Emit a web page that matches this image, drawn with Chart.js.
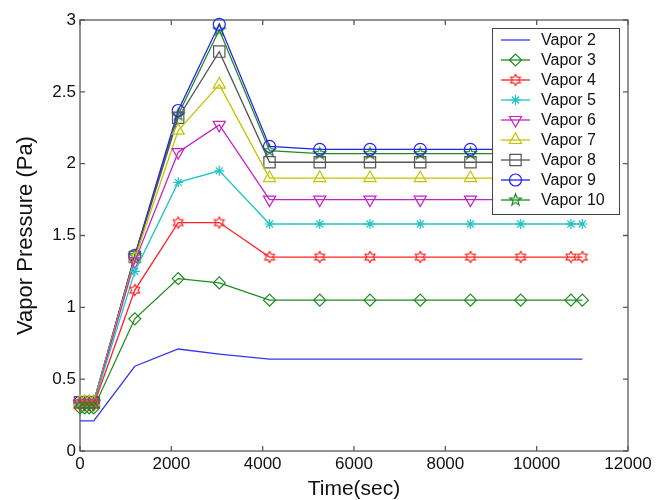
<!DOCTYPE html>
<html><head><meta charset="utf-8">
<script src="https://cdn.jsdelivr.net/npm/chart.js@4/dist/chart.umd.min.js"></script>
<style>html,body{margin:0;padding:0;background:#fff;}canvas{display:block;}</style>
</head><body>
<canvas id="c" width="664" height="500"></canvas>
<script>
// ---- data ----
const times   = [0, 100, 200, 300, 1200, 2150, 3050, 4150, 5250, 6350, 7450, 8550, 9650, 10750, 11000];
const vapor2  = [0.21, 0.21, 0.21, 0.21, 0.59, 0.71, 0.675, 0.64, 0.64, 0.64, 0.64, 0.64, 0.64, 0.64, 0.64];
const vapor3  = [0.30, 0.30, 0.30, 0.30, 0.92, 1.20, 1.17, 1.05, 1.05, 1.05, 1.05, 1.05, 1.05, 1.05, 1.05];
const vapor4  = [0.32, 0.32, 0.32, 0.32, 1.12, 1.59, 1.59, 1.35, 1.35, 1.35, 1.35, 1.35, 1.35, 1.35, 1.35];
const vapor5  = [0.33, 0.33, 0.33, 0.33, 1.25, 1.87, 1.95, 1.58, 1.58, 1.58, 1.58, 1.58, 1.58, 1.58, 1.58];
const vapor6  = [0.33, 0.33, 0.33, 0.33, 1.32, 2.08, 2.27, 1.75, 1.75, 1.75, 1.75, 1.75, 1.75, 1.75, 1.75];
const vapor7  = [0.34, 0.34, 0.34, 0.34, 1.34, 2.23, 2.55, 1.90, 1.90, 1.90, 1.90, 1.90, 1.90, 1.90, 1.90];
const vapor8  = [0.34, 0.34, 0.34, 0.34, 1.35, 2.32, 2.78, 2.01, 2.01, 2.01, 2.01, 2.01, 2.01, 2.01, 2.01];
const vapor9  = [0.34, 0.34, 0.34, 0.34, 1.36, 2.37, 2.97, 2.12, 2.10, 2.10, 2.10, 2.10, 2.10, 2.10, 2.10];
const vapor10 = [0.34, 0.34, 0.34, 0.34, 1.36, 2.34, 2.93, 2.09, 2.07, 2.07, 2.07, 2.07, 2.07, 2.07, 2.07];
const seriesNames = ['Vapor 2','Vapor 3','Vapor 4','Vapor 5','Vapor 6','Vapor 7','Vapor 8','Vapor 9','Vapor 10'];
const seriesValues = [vapor2, vapor3, vapor4, vapor5, vapor6, vapor7, vapor8, vapor9, vapor10];
const xTicks = [0, 2000, 4000, 6000, 8000, 10000, 12000];
const xTickLabels = ['0','2000','4000','6000','8000','10000','12000'];
const yTicks = [0, 0.5, 1, 1.5, 2, 2.5, 3];
const yTickLabels = ['0','0.5','1','1.5','2','2.5','3'];

// ---- styles ----
function starCanvas(color, n, R, r) {
  const size = Math.ceil(2 * R + 4);
  const c = document.createElement('canvas');
  c.width = size; c.height = size;
  const g = c.getContext('2d');
  g.beginPath();
  for (let k = 0; k < 2 * n; k++) {
    const a = -Math.PI / 2 + k * Math.PI / n;
    const rad = (k % 2) ? r : R;
    const px = size / 2 + rad * Math.cos(a), py = size / 2 + rad * Math.sin(a);
    if (k === 0) g.moveTo(px, py); else g.lineTo(px, py);
  }
  g.closePath();
  g.strokeStyle = color; g.lineWidth = 1.2; g.stroke();
  return c;
}
const colors = ['#3535f0','#1e8c1e','#ff2222','#22c4c4','#c422c4','#c4c400','#555555','#2323ee','#1e8c1e'];
const styles = [
  {style: 'circle', r: 0, rot: 0},
  {style: 'rectRot', r: 6, rot: 0},
  {style: starCanvas(colors[2], 6, 5.6, 3.2), r: 6, rot: 0},
  {style: 'star', r: 5, rot: 0},
  {style: 'triangle', r: 7, rot: 180},
  {style: 'triangle', r: 7, rot: 0},
  {style: 'rect', r: 8, rot: 0},
  {style: 'circle', r: 6, rot: 0},
  {style: starCanvas(colors[8], 5, 6.2, 2.5), r: 6, rot: 0}
];

const datasets = seriesNames.map((name, i) => ({
  label: name,
  data: times.map((t, j) => ({x: t, y: seriesValues[i][j]})),
  borderColor: colors[i],
  backgroundColor: 'rgba(0,0,0,0)',
  borderWidth: 1.3,
  pointStyle: styles[i].style,
  pointRadius: styles[i].r,
  pointRotation: styles[i].rot,
  pointBorderColor: colors[i],
  pointBackgroundColor: 'rgba(0,0,0,0)',
  pointBorderWidth: 1.2,
  pointHoverRadius: styles[i].r,
  tension: 0,
  fill: false,
  clip: false
}));

const FONT = "'Liberation Sans', Arial, Helvetica, sans-serif";

const boxPlugin = {
  id: 'matlabBox',
  beforeDatasetsDraw(chart) {
    const {ctx, chartArea: a, scales} = chart;
    ctx.save();
    ctx.strokeStyle = '#5a5a5a';
    ctx.lineWidth = 1.3;
    ctx.strokeRect(a.left, a.top, a.right - a.left, a.bottom - a.top);
    const tl = 5;
    ctx.beginPath();
    scales.x.ticks.forEach(t => {
      const px = scales.x.getPixelForValue(t.value);
      ctx.moveTo(px, a.bottom); ctx.lineTo(px, a.bottom - tl);
      ctx.moveTo(px, a.top); ctx.lineTo(px, a.top + tl);
    });
    scales.y.ticks.forEach(t => {
      const py = scales.y.getPixelForValue(t.value);
      ctx.moveTo(a.left, py); ctx.lineTo(a.left + tl, py);
      ctx.moveTo(a.right, py); ctx.lineTo(a.right - tl, py);
    });
    ctx.stroke();
    ctx.restore();
  }
};

const legendPlugin = {
  id: 'matlabLegend',
  afterDatasetsDraw(chart) {
    const {ctx, chartArea: a} = chart;
    const right = a.right - 9, top = a.top + 8, w = 127, h = 186;
    const left = right - w;
    ctx.save();
    ctx.fillStyle = '#ffffff';
    ctx.fillRect(left, top, w, h);
    ctx.strokeStyle = '#444444';
    ctx.lineWidth = 1;
    ctx.strokeRect(left + 0.5, top + 0.5, w, h);
    chart.data.datasets.forEach((ds, i) => {
      const y = top + 12 + i * 20;
      const x0 = left + 9, x1 = left + 38, xm = (x0 + x1) / 2;
      ctx.strokeStyle = ds.borderColor;
      ctx.lineWidth = ds.borderWidth;
      ctx.beginPath(); ctx.moveTo(x0, y); ctx.lineTo(x1, y); ctx.stroke();
      if (ds.pointRadius > 0 && Chart.helpers && Chart.helpers.drawPoint) {
        ctx.strokeStyle = ds.pointBorderColor;
        ctx.fillStyle = 'rgba(0,0,0,0)';
        ctx.lineWidth = ds.pointBorderWidth;
        Chart.helpers.drawPoint(ctx, {pointStyle: ds.pointStyle, rotation: ds.pointRotation, radius: ds.pointRadius, borderWidth: ds.pointBorderWidth}, xm, y);
      }
      ctx.fillStyle = '#111111';
      ctx.font = '16px ' + FONT;
      ctx.textAlign = 'left';
      ctx.textBaseline = 'middle';
      ctx.fillText(ds.label, left + 49, y + 1);
    });
    ctx.restore();
  }
};

new Chart(document.getElementById('c'), {
  type: 'line',
  data: {datasets},
  options: {
    responsive: false,
    devicePixelRatio: 1,
    animation: false,
    events: [],
    layout: {padding: {top: 20, right: 36, left: 0, bottom: 0}},
    plugins: {legend: {display: false}, tooltip: {enabled: false}},
    scales: {
      x: {
        type: 'linear', min: 0, max: 12000,
        afterBuildTicks: s => { s.ticks = xTicks.map(v => ({value: v})); },
        afterFit: s => { s.height = 49; },
        grid: {display: false, drawTicks: false},
        border: {display: false},
        ticks: {
          padding: 3, color: '#111', font: {family: FONT, size: 17},
          maxRotation: 0, autoSkip: false,
          callback: (v, i) => xTickLabels[xTicks.indexOf(v)]
        },
        title: {display: true, text: 'Time(sec)', color: '#111',
          font: {family: FONT, size: 21, lineHeight: 1}, padding: {top: 0, bottom: 0}}
      },
      y: {
        type: 'linear', min: 0, max: 3,
        afterBuildTicks: s => { s.ticks = yTicks.map(v => ({value: v})); },
        afterFit: s => { s.width = 80; },
        grid: {display: false, drawTicks: false},
        border: {display: false},
        ticks: {
          padding: 4, color: '#111', font: {family: FONT, size: 17},
          autoSkip: false,
          callback: (v, i) => yTickLabels[yTicks.indexOf(v)]
        },
        title: {display: true, text: 'Vapor Pressure (Pa)', color: '#111',
          font: {family: FONT, size: 22, lineHeight: 1.2}, padding: {top: 13, bottom: 0}}
      }
    }
  },
  plugins: [boxPlugin, legendPlugin]
});
</script>
</body></html>
